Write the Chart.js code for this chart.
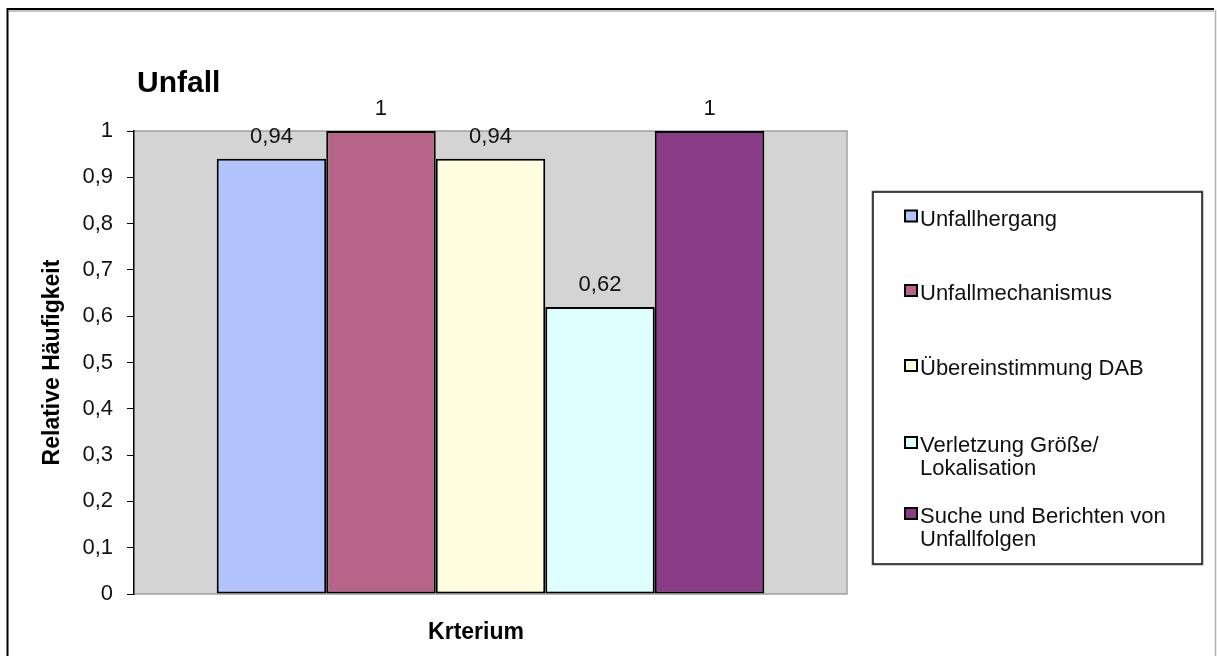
<!DOCTYPE html>
<html><head><meta charset="utf-8">
<script src="https://cdn.jsdelivr.net/npm/chart.js@4"></script>
<style>html,body{margin:0;padding:0;background:#fff}#wrap{width:1217px;height:656px;position:relative}</style>
</head><body><div id="wrap"><canvas id="c" width="1217" height="656"></canvas></div>
<script>
const categories = ['Krterium'];
const seriesNames = ['Unfallhergang', 'Unfallmechanismus', 'Übereinstimmung DAB', 'Verletzung Größe/\nLokalisation', 'Suche und Berichten von\nUnfallfolgen'];
const seriesValues = [0.94, 1, 0.94, 0.62, 1];
const seriesColors = ['#b3c3fb', '#b66588', '#fffde0', '#dfffff', '#8a3c86'];
const chartTitle = 'Unfall';
const xTitle = 'Krterium';
const yTitle = 'Relative Häufigkeit';
const yMin = 0, yMax = 1, yStep = 0.1;

const FONT = '"Liberation Sans", Arial, sans-serif';
const fmt = v => { const r = Math.round(v * 100) / 100; return String(r).replace('.', ','); };

const datasets = seriesNames.map((n, i) => ({
  label: n,
  data: [seriesValues[i]],
  backgroundColor: seriesColors[i],
  borderColor: '#000',
  borderWidth: 2,
  borderSkipped: false,
  barPercentage: 1,
  categoryPercentage: 0.768
}));

const plotBg = {
  id: 'plotBg',
  beforeDraw(chart) {
    const {ctx, chartArea: a} = chart;
    ctx.save();
    ctx.fillStyle = '#d4d4d4';
    ctx.fillRect(a.left, a.top, a.right - a.left, a.bottom - a.top);
    ctx.strokeStyle = '#a0a0a0';
    ctx.lineWidth = 1.5;
    ctx.beginPath();
    ctx.moveTo(a.left, a.top); ctx.lineTo(a.right, a.top); ctx.lineTo(a.right, a.bottom); ctx.lineTo(a.left, a.bottom);
    ctx.stroke();
    ctx.restore();
  }
};

const valueLabels = {
  id: 'valueLabels',
  afterDatasetsDraw(chart) {
    const {ctx} = chart;
    ctx.save();
    ctx.font = '22px ' + FONT;
    ctx.fillStyle = '#111';
    ctx.textAlign = 'center';
    ctx.textBaseline = 'middle';
    chart.data.datasets.forEach((ds, i) => {
      chart.getDatasetMeta(i).data.forEach((bar, j) => {
        ctx.fillText(fmt(ds.data[j]), bar.x, bar.y - 22);
      });
    });
    ctx.restore();
  }
};

const extras = {
  id: 'extras',
  afterDraw(chart) {
    const {ctx} = chart;
    ctx.save();
    // outer frame
    ctx.strokeStyle = '#000'; ctx.lineWidth = 2;
    ctx.beginPath(); ctx.moveTo(7.5, 700); ctx.lineTo(7.5, 9); ctx.lineTo(1214, 9); ctx.stroke();
    ctx.strokeStyle = '#b0b0b0'; ctx.lineWidth = 1.5;
    ctx.beginPath(); ctx.moveTo(1215.5, 10); ctx.lineTo(1215.5, 700); ctx.stroke();
    ctx.beginPath(); ctx.moveTo(9, 11); ctx.lineTo(1214, 11); ctx.stroke();
    // chart title
    ctx.fillStyle = '#000';
    ctx.font = 'bold 30px ' + FONT;
    ctx.textAlign = 'left'; ctx.textBaseline = 'alphabetic';
    ctx.fillText(chartTitle, 137, 92);
    // x title
    ctx.font = 'bold 23px ' + FONT;
    ctx.textAlign = 'center'; ctx.textBaseline = 'middle';
    ctx.fillText(xTitle, 476, 633);
    // legend box
    const L = 873, T = 192, R = 1202, B = 564;
    ctx.fillStyle = '#fff';
    ctx.fillRect(L, T, R - L, B - T);
    ctx.strokeStyle = '#999'; ctx.lineWidth = 1;
    ctx.strokeRect(L - 1, T - 1, R - L + 2, B - T + 2);
    ctx.strokeStyle = '#111'; ctx.lineWidth = 1.5;
    ctx.strokeRect(L, T, R - L, B - T);
    const rows = [219.5, 294, 369, 446, 517];
    ctx.font = '22px ' + FONT;
    ctx.textAlign = 'left'; ctx.textBaseline = 'middle';
    chart.data.datasets.forEach((ds, i) => {
      const y = rows[i];
      ctx.fillStyle = ds.backgroundColor;
      ctx.fillRect(905, y - 9, 12, 11);
      ctx.strokeStyle = '#000'; ctx.lineWidth = 2;
      ctx.strokeRect(905, y - 9, 12, 11);
      ctx.fillStyle = '#111';
      ds.label.split('\n').forEach((line, k) => ctx.fillText(line, 920, y + k * 23));
    });
    ctx.restore();
  }
};

new Chart(document.getElementById('c'), {
  type: 'bar',
  data: { labels: categories, datasets },
  options: {
    responsive: false,
    devicePixelRatio: 1,
    animation: false,
    layout: { padding: { left: 0, top: 131, right: 370, bottom: 0 } },
    plugins: { legend: { display: false }, title: { display: false }, tooltip: { enabled: false } },
    scales: {
      x: {
        offset: true,
        grid: { display: false },
        border: { display: false },
        ticks: { display: false },
        afterFit: s => { s.height = 62; }
      },
      y: {
        min: yMin, max: yMax,
        ticks: {
          stepSize: yStep,
          color: '#111',
          font: { family: FONT, size: 22 },
          padding: 14,
          callback: v => fmt(v)
        },
        grid: { drawOnChartArea: false, drawTicks: true, tickLength: 7, color: '#000', lineWidth: 1 },
        border: { color: '#000', width: 1.5 },
        title: { display: true, text: yTitle, color: '#000', font: { family: FONT, size: 23, weight: 'bold' }, padding: { top: 39, bottom: 0 } },
        afterFit: s => { s.width = 134; }
      }
    }
  },
  plugins: [plotBg, valueLabels, extras]
});
</script>
</body></html>
